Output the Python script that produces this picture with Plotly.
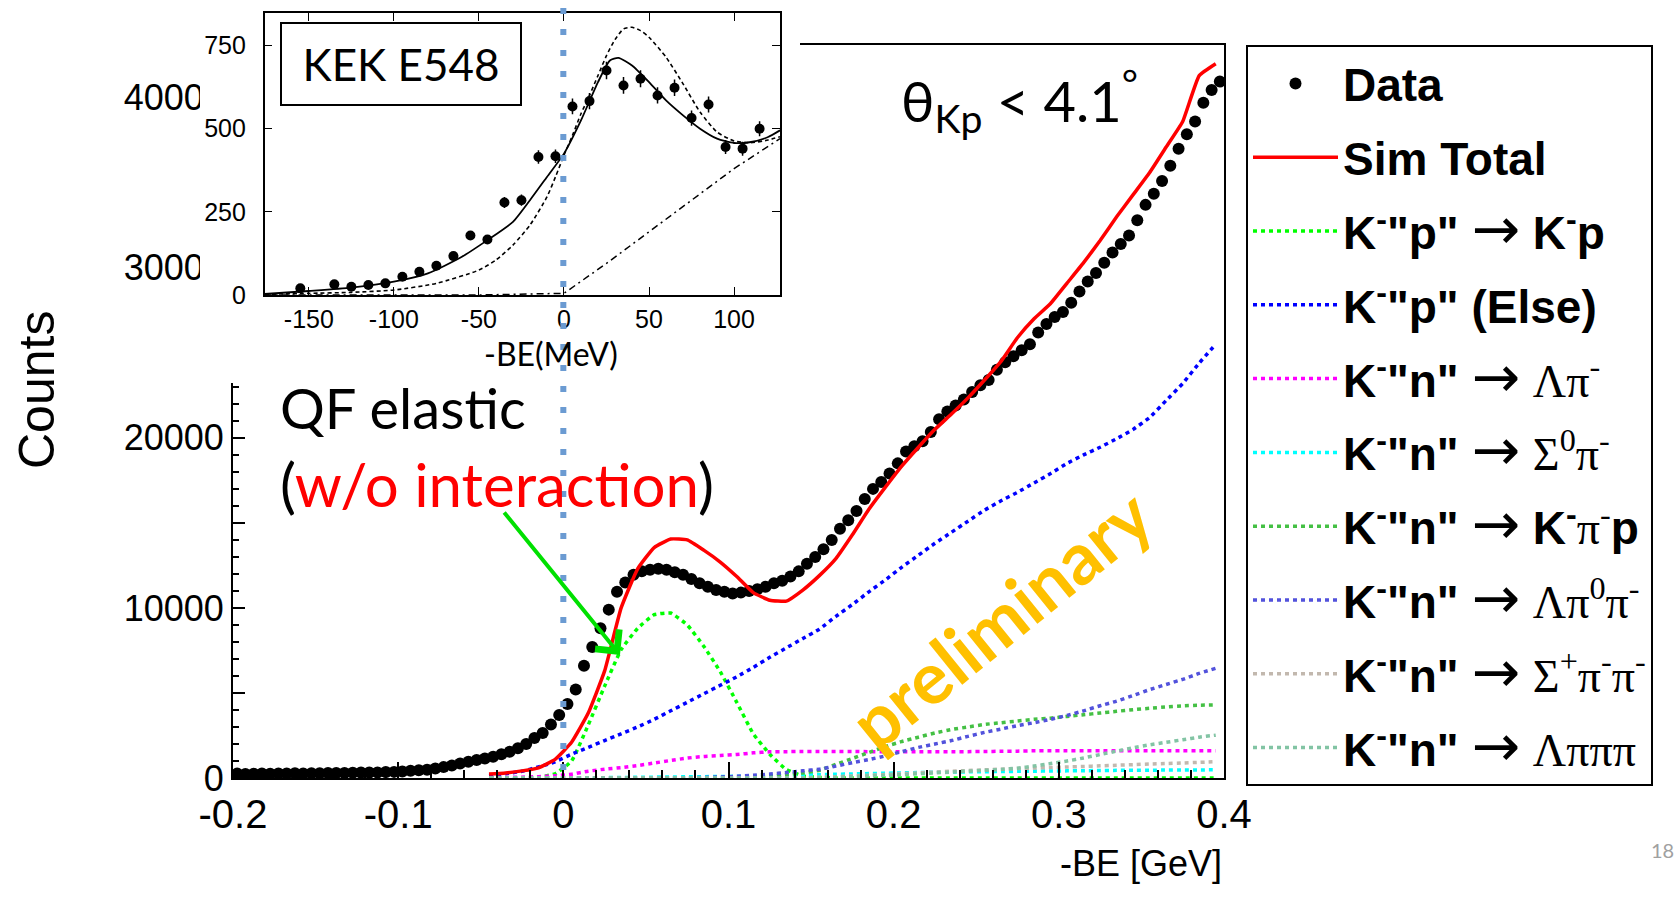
import plotly.graph_objects as go

W, H = 1677, 897


def px(v):
    return v / W


def py(v):
    return 1 - v / H


# ---------------- main histogram data ----------------
DATA_X = [
    -0.1975, -0.1925, -0.1875, -0.1825, -0.1775, -0.1725, -0.1675, -0.1625, -0.1575, -0.1525,
    -0.1475, -0.1425, -0.1375, -0.1325, -0.1275, -0.1225, -0.1175, -0.1125, -0.1075, -0.1025,
    -0.0975, -0.0925, -0.0875, -0.0825, -0.0775, -0.0725, -0.0675, -0.0625, -0.0575, -0.0525,
    -0.0475, -0.0425, -0.0375, -0.0325, -0.0275, -0.0225, -0.0175, -0.0125, -0.0075, -0.0025,
    0.0025, 0.0075, 0.0125, 0.0175, 0.0225, 0.0275, 0.0325, 0.0375, 0.0425, 0.0475,
    0.0525, 0.0575, 0.0625, 0.0675, 0.0725, 0.0775, 0.0825, 0.0875, 0.0925, 0.0975,
    0.1025, 0.1075, 0.1125, 0.1175, 0.1225, 0.1275, 0.1325, 0.1375, 0.1425, 0.1475,
    0.1525, 0.1575, 0.1625, 0.1675, 0.1725, 0.1775, 0.1825, 0.1875, 0.1925, 0.1975,
    0.2025, 0.2075, 0.2125, 0.2175, 0.2225, 0.2275, 0.2325, 0.2375, 0.2425, 0.2475,
    0.2525, 0.2575, 0.2625, 0.2675, 0.2725, 0.2775, 0.2825, 0.2875, 0.2925, 0.2975,
    0.3025, 0.3075, 0.3125, 0.3175, 0.3225, 0.3275, 0.3325, 0.3375, 0.3425, 0.3475,
    0.3525, 0.3575, 0.3625, 0.3675, 0.3725, 0.3775, 0.3825, 0.3875, 0.3925, 0.3975,
]
DATA_Y = [
    260, 240, 250, 260, 250, 270, 260, 280, 270, 280,
    280, 290, 300, 290, 310, 320, 320, 330, 350, 360,
    380, 420, 450, 490, 560, 640, 740, 850, 960, 1060,
    1150, 1250, 1400, 1550, 1750, 2000, 2350, 2650, 3150, 3700,
    4350, 5200, 6600, 7700, 8800, 9900, 10950, 11500, 11950, 12150,
    12250, 12300, 12250, 12100, 11950, 11700, 11450, 11250, 11050, 10950,
    10850, 10900, 11000, 11100, 11250, 11450, 11600, 11850, 12150, 12600,
    13000, 13450, 14000, 14650, 15150, 15700, 16400, 17000, 17400, 17900,
    18500, 19200, 19500, 19800, 20350, 21100, 21550, 21900, 22250, 22700,
    23100, 23400, 24000, 24450, 24800, 25150, 25500, 26200, 26700, 27100,
    27400, 27950, 28600, 29200, 29700, 30300, 30900, 31400, 31900, 32800,
    33700, 34350, 35100, 36000, 37000, 37850, 38600, 39700, 40450, 40950,
]

SIM_X = [
    -0.045, -0.035, -0.025, -0.015, -0.005, 0.005, 0.015, 0.025, 0.035, 0.045,
    0.055, 0.065, 0.075, 0.085, 0.095, 0.105, 0.115, 0.125, 0.135, 0.145,
    0.155, 0.165, 0.175, 0.185, 0.195, 0.205, 0.215, 0.225, 0.235, 0.245,
    0.255, 0.265, 0.275, 0.285, 0.295, 0.305, 0.315, 0.325, 0.335, 0.345,
    0.355, 0.365, 0.375, 0.385, 0.395,
]
SIM_TOTAL = [
    240, 300, 420, 600, 1100, 2100, 3800, 6300, 10000, 12300,
    13550, 14050, 14000, 13400, 12700, 11850, 10900, 10450, 10400, 11050,
    11900, 12900, 14300, 15800, 17100, 18350, 19450, 20500, 21400, 22350,
    23400, 24500, 25900, 27000, 27900, 29100, 30300, 31600, 33000, 34300,
    35600, 37100, 38600, 41300, 42000,
]
KP_TO_KP = [
    0, 0, 0, 50, 250, 1000, 3100, 5400, 7550, 8800,
    9600, 9700, 9000, 7750, 6250, 4450, 2600, 1400, 500, 120,
    30, 0, 0, 0, 0, 0, 0, 0, 0, 0,
    0, 0, 0, 0, 0, 0, 0, 0, 0, 0,
    0, 0, 0, 0, 0,
]
KP_ELSE = [
    150, 250, 400, 650, 950, 1400, 1800, 2200, 2600, 3000,
    3450, 3950, 4450, 4950, 5450, 5950, 6500, 7100, 7650, 8200,
    8750, 9500, 10200, 10950, 11650, 12400, 13100, 13800, 14450, 15100,
    15750, 16300, 16800, 17350, 17900, 18500, 19000, 19450, 19950, 20500,
    21200, 22200, 23200, 24400, 25500,
]
KN_LPI = [
    20, 30, 50, 80, 130, 220, 400, 520, 610, 730,
    880, 1030, 1170, 1270, 1320, 1380, 1480, 1540, 1550, 1560,
    1560, 1560, 1560, 1550, 1550, 1550, 1550, 1550, 1550, 1550,
    1560, 1570, 1580, 1600, 1600, 1600, 1600, 1600, 1600, 1600,
    1600, 1600, 1600, 1600, 1600,
]
KN_S0PI = [
    0, 0, 0, 0, 0, 0, 10, 20, 30, 40,
    50, 60, 70, 80, 90, 100, 120, 140, 160, 180,
    200, 220, 240, 260, 280, 300, 320, 340, 350, 360,
    370, 380, 390, 400, 410, 420, 430, 440, 450, 455,
    460, 465, 470, 475, 480,
]
KN_KPIP = [
    0, 0, 0, 0, 0, 0, 0, 0, 0, 0,
    0, 0, 0, 0, 0, 0, 30, 100, 200, 300,
    450, 800, 1150, 1500, 1850, 2150, 2400, 2650, 2850, 3000,
    3150, 3250, 3350, 3450, 3520, 3620, 3720, 3820, 3920, 4020,
    4100, 4180, 4240, 4280, 4300,
]
KN_LPI0PI = [
    0, 0, 0, 0, 0, 0, 0, 0, 0, 0,
    0, 0, 0, 30, 60, 100, 160, 230, 320, 420,
    520, 700, 900, 1080, 1300, 1550, 1800, 2000, 2200, 2450,
    2680, 2880, 3080, 3250, 3450, 3680, 3950, 4250, 4520, 4850,
    5200, 5500, 5800, 6150, 6450,
]
KN_SPPIPI = [
    0, 0, 0, 0, 0, 0, 0, 0, 0, 0,
    0, 0, 0, 0, 0, 0, 0, 0, 0, 0,
    50, 80, 120, 160, 200, 250, 300, 350, 400, 440,
    480, 520, 560, 590, 620, 650, 680, 715, 750, 785,
    820, 850, 880, 920, 960,
]
KN_LPIPIPI = [
    0, 0, 0, 0, 0, 0, 0, 0, 0, 0,
    0, 0, 0, 0, 0, 0, 0, 0, 0, 0,
    0, 50, 80, 120, 160, 200, 250, 300, 350, 400,
    450, 500, 580, 700, 850, 1000, 1180, 1380, 1580, 1780,
    1950, 2100, 2250, 2400, 2520,
]

X_TICKS = [-0.2, -0.1, 0, 0.1, 0.2, 0.3, 0.4]
X_TICKTEXT = ["-0.2", "-0.1", "0", "0.1", "0.2", "0.3", "0.4"]
Y_TICKS = [0, 5000, 10000, 15000, 20000, 25000, 30000, 35000, 40000]
Y_TICKTEXT = ["0", "", "10000", "", "20000", "", "30000", "", "40000"]

# ---------------- inset (KEK E548) data ----------------
INSET_X = [-155, -135, -125, -115, -105, -95, -85, -75, -65, -55, -45, -35, -25, -15,
           -5, 5, 15, 25, 35, 45, 55, 65, 75, 85, 95, 105, 115]
INSET_Y = [20, 32, 25, 30, 35, 55, 70, 88, 117, 179, 167, 278, 285, 415,
           417, 567, 583, 675, 630, 650, 600, 623, 532, 573, 445, 440, 500]
FIT_X = [-176, -150, -125, -100, -80, -60, -45, -30, -20, -10, 0, 10, 20, 27, 32,
         40, 50, 60, 70, 80, 90, 100, 110, 120, 127]
FIT_Y = [3, 12, 22, 40, 65, 115, 165, 220, 285, 355, 425, 525, 640, 705, 713,
         690, 640, 585, 540, 500, 470, 457, 460, 475, 495]
DASH_X = [-176, -150, -125, -100, -75, -50, -40, -30, -20, -10, -5, 0, 5, 10, 15,
          20, 25, 30, 35, 40, 45, 50, 60, 70, 80, 90, 100, 110, 120, 127]
DASH_Y = [2, 5, 8, 15, 35, 75, 105, 150, 210, 295, 355, 420, 480, 545, 600,
          660, 720, 768, 800, 805, 795, 775, 715, 635, 550, 490, 463, 458, 466, 476]
BG_X = [-176, -100, -50, 0, 25, 50, 75, 100, 127]
BG_Y = [0, 0, 0, 5, 95, 190, 285, 380, 470]
INSET_XTICKS = [-150, -100, -50, 0, 50, 100]
INSET_XTICKTEXT = ["-150", "-100", "-50", "0", "50", "100"]
INSET_YTICKS = [0, 250, 500, 750]

SERIF = '<span style="font-family:Liberation Serif;font-weight:normal">'
ARROW = '<span style="font-family:DejaVu Sans;font-weight:normal;font-size:58px">→</span>'
COMPONENTS = [
    ('K<sup>-</sup>"p" ' + ARROW + ' K<sup>-</sup>p', KP_TO_KP, "#00ff00"),
    ('K<sup>-</sup>"p" (Else)', KP_ELSE, "#0000ff"),
    ('K<sup>-</sup>"n" ' + ARROW + ' ' + SERIF + 'Λπ<sup>-</sup></span>', KN_LPI, "#ff00ff"),
    ('K<sup>-</sup>"n" ' + ARROW + ' ' + SERIF + 'Σ<sup>0</sup>π<sup>-</sup></span>',
     KN_S0PI, "#00ffff"),
    ('K<sup>-</sup>"n" ' + ARROW + ' K<sup>-</sup>' + SERIF + 'π<sup>-</sup></span>p',
     KN_KPIP, "#44c044"),
    ('K<sup>-</sup>"n" ' + ARROW + ' ' + SERIF + 'Λπ<sup>0</sup>π<sup>-</sup></span>',
     KN_LPI0PI, "#5252dc"),
    ('K<sup>-</sup>"n" ' + ARROW + ' ' + SERIF + 'Σ<sup>+</sup>π<sup>-</sup>π<sup>-</sup></span>',
     KN_SPPIPI, "#c2b8ae"),
    ('K<sup>-</sup>"n" ' + ARROW + ' ' + SERIF + 'Λπππ</span>', KN_LPIPIPI, "#82c4a4"),
]

fig = go.Figure()

# simulated components (dotted)
for i, (label, vals, color) in enumerate(COMPONENTS):
    fig.add_trace(go.Scatter(
        x=SIM_X, y=vals, mode="lines", name=label,
        line=dict(color=color, width=3.5, dash="4px,4px", shape="spline", smoothing=0.4),
        legendrank=3 + i, legendgroup="g%d" % (3 + i),
        xaxis="x", yaxis="y", hoverinfo="skip",
    ))

# data
fig.add_trace(go.Scatter(
    x=DATA_X, y=DATA_Y, mode="markers", name="Data",
    marker=dict(color="black", size=12),
    error_y=dict(type="sqrt", color="black", thickness=1.5, width=0),
    error_x=dict(type="constant", value=0.0025, color="black", thickness=1.5, width=0),
    legendrank=1, legendgroup="g1", xaxis="x", yaxis="y",
))

# sim total
fig.add_trace(go.Scatter(
    x=SIM_X, y=SIM_TOTAL, mode="lines", name="Sim Total",
    line=dict(color="#ff0000", width=3.5, shape="spline", smoothing=0.4),
    legendrank=2, legendgroup="g2", xaxis="x", yaxis="y",
))

# white cover behind the inset picture
fig.add_trace(go.Scatter(
    x=[0, 1, 1, 0, 0], y=[0, 0, 1, 1, 0], mode="lines", fill="toself",
    fillcolor="white", line=dict(width=0, color="white"),
    showlegend=False, hoverinfo="skip", xaxis="x2", yaxis="y2",
))

# inset traces
fig.add_trace(go.Scatter(
    x=BG_X, y=BG_Y, mode="lines", showlegend=False, hoverinfo="skip",
    line=dict(color="black", width=1.5, dash="7px,4px,2px,4px"), xaxis="x3", yaxis="y3",
))
fig.add_trace(go.Scatter(
    x=DASH_X, y=DASH_Y, mode="lines", showlegend=False, hoverinfo="skip",
    line=dict(color="black", width=1.6, dash="4px,3px", shape="spline", smoothing=0.6),
    xaxis="x3", yaxis="y3",
))
fig.add_trace(go.Scatter(
    x=FIT_X, y=FIT_Y, mode="lines", showlegend=False, hoverinfo="skip",
    line=dict(color="black", width=1.8, shape="spline", smoothing=0.6),
    xaxis="x3", yaxis="y3",
))
fig.add_trace(go.Scatter(
    x=INSET_X, y=INSET_Y, mode="markers", showlegend=False,
    marker=dict(color="black", size=10),
    error_y=dict(type="sqrt", color="black", thickness=1.5, width=0),
    xaxis="x3", yaxis="y3",
))

AX_FONT = dict(family="Liberation Sans, Arial, sans-serif", size=40, color="black")
INSET_FONT = dict(family="Liberation Sans, Arial", size=25, color="black")

fig.update_layout(
    width=W, height=H,
    margin=dict(l=0, r=0, t=0, b=0, autoexpand=False),
    paper_bgcolor="white", plot_bgcolor="white",
    showlegend=True,
    xaxis=dict(
        domain=[px(233), px(1224)], range=[-0.2, 0.4], anchor="y",
        tickvals=X_TICKS, ticktext=X_TICKTEXT, tickfont=AX_FONT,
        ticks="inside", ticklen=16, tickwidth=2, tickcolor="black",
        minor=dict(dtick=0.02, ticks="inside", ticklen=8, tickwidth=1.5, tickcolor="black"),
        showline=True, linecolor="black", linewidth=2, mirror=True,
        showgrid=False, zeroline=False, automargin=False,
    ),
    yaxis=dict(
        domain=[py(778), py(45)], range=[0, 43100], anchor="x",
        tickvals=Y_TICKS, ticktext=Y_TICKTEXT, tickfont=dict(AX_FONT, size=36),
        ticks="inside", ticklen=12, tickwidth=2, tickcolor="black",
        minor=dict(dtick=1000, ticks="inside", ticklen=6, tickwidth=1.5, tickcolor="black"),
        showline=True, linecolor="black", linewidth=2, mirror=True,
        showgrid=False, zeroline=False, automargin=False,
    ),
    xaxis2=dict(domain=[px(200), px(800)], range=[0, 1], anchor="y2", visible=False,
                fixedrange=True),
    yaxis2=dict(domain=[py(383), 1.0], range=[0, 1], anchor="x2", visible=False,
                fixedrange=True),
    xaxis3=dict(
        domain=[px(264.6), px(780)], range=[-176, 127], anchor="y3",
        tickvals=INSET_XTICKS, ticktext=INSET_XTICKTEXT, tickfont=INSET_FONT,
        ticks="inside", ticklen=8, tickwidth=1.2, tickcolor="black", ticklabelstandoff=1,
        showline=True, linecolor="black", linewidth=1.5, mirror="ticks",
        showgrid=False, zeroline=False, automargin=False,
    ),
    yaxis3=dict(
        domain=[py(295), py(13.3)], range=[0, 847], anchor="x3",
        tickvals=INSET_YTICKS, tickfont=INSET_FONT, ticklabelstandoff=12,
        ticks="inside", ticklen=8, tickwidth=1.2, tickcolor="black",
        showline=True, linecolor="black", linewidth=1.5, mirror="ticks",
        showgrid=False, zeroline=False, automargin=False,
    ),
    legend=dict(
        x=px(1246), y=py(45), xanchor="left", yanchor="top",
        bgcolor="white", bordercolor="black", borderwidth=2,
        font=dict(family="Liberation Sans, Arial", size=46, color="black", weight="bold"),
        itemwidth=85, tracegroupgap=11, traceorder="grouped", valign="middle",
    ),
)

CAL = "Lato, Open Sans, sans-serif"
annotations = [
    dict(x=px(401), y=py(64), xref="paper", yref="paper", text="KEK E548", showarrow=False,
         font=dict(family=CAL, size=44, color="black"), bordercolor="black", borderwidth=2,
         borderpad=0, width=238, height=80, bgcolor="white", xanchor="center", yanchor="middle"),
    dict(x=px(551), y=py(353), xref="paper", yref="paper", text="-BE(MeV)", showarrow=False,
         font=dict(family=CAL, size=32, color="black"), xanchor="center", yanchor="middle"),
    dict(x=px(1019), y=py(100), xref="paper", yref="paper",
         text="θ<sub>Kp</sub> &lt; 4.1<sup>°</sup>", showarrow=False,
         font=dict(family=CAL, size=56, color="black"), xanchor="center", yanchor="middle"),
    dict(x=px(278), y=py(408), xref="paper", yref="paper", text="QF elastic", showarrow=False,
         font=dict(family=CAL, size=56, color="black"), xanchor="left", yanchor="middle"),
    dict(x=px(278), y=py(484), xref="paper", yref="paper",
         text='(<span style="color:#ff0000">w/o interaction</span>)', showarrow=False,
         font=dict(family=CAL, size=60, color="black"), xanchor="left", yanchor="middle"),
    dict(x=px(1000), y=py(618), xref="paper", yref="paper", text="<b>preliminary</b>",
         showarrow=False, textangle=-39,
         font=dict(family=CAL, size=72, color="#FFC000"), xanchor="center", yanchor="middle"),
    dict(x=px(37), y=py(390), xref="paper", yref="paper", text="Counts", showarrow=False,
         textangle=-90, font=dict(family="Liberation Sans, Arial", size=50, color="black"),
         xanchor="center", yanchor="middle"),
    dict(x=px(1224), y=py(863), xref="paper", yref="paper", text="-BE [GeV]", showarrow=False,
         font=dict(family="Liberation Sans, Arial", size=36, color="black"),
         xanchor="right", yanchor="middle"),
    dict(x=px(1649), y=py(850), xref="paper", yref="paper", text="18", showarrow=False,
         font=dict(family=CAL, size=20, color="#a0a0a0"), xanchor="left", yanchor="middle"),
    dict(x=0.0343, y=7235, xref="x", yref="y", text="", showarrow=True,
         ax=-117, ay=-144, axref="pixel", ayref="pixel",
         arrowcolor="#00e000", arrowwidth=4, arrowhead=4, arrowsize=1.5, standoff=0),
]
fig.update_layout(annotations=annotations)

fig.add_shape(type="line", xref="x", yref="paper", x0=0, x1=0, y0=py(770), y1=1.0,
              line=dict(color="#6b9bd2", width=6, dash="6px,15px"), layer="above")

fig.write_html("out.html")
